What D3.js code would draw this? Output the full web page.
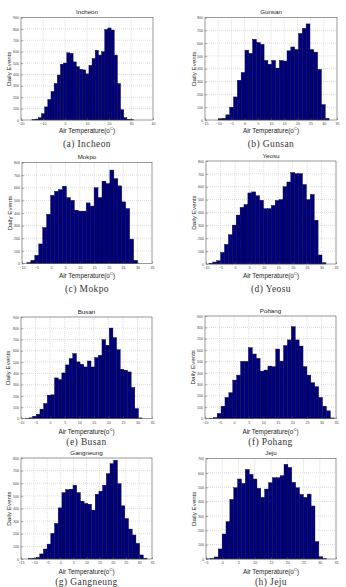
<!DOCTYPE html>
<html lang="en">
<head>
<meta charset="UTF-8">
<title>Daily events by air temperature</title>
<script src="https://d3js.org/d3.v7.min.js"></script>
<style>
	body { margin: 0; background: #fff; }
	svg { display: block; }
</style>
</head>
<body>
<div id="main"></div>
<script>
	// station names and panel captions
	var stations = ["Incheon", "Gunsan", "Mokpo", "Yeosu", "Busan", "Pohang", "Gangneung", "Jeju"];
	var captions = ["(a) Incheon", "(b) Gunsan", "(c) Mokpo", "(d) Yeosu", "(e) Busan", "(f) Pohang", "(g) Gangneung", "(h) Jeju"];

	// histogram counts (daily events per temperature bin)
	var incheon = [3, 8, 20, 55, 115, 180, 250, 320, 395, 490, 500, 590, 585, 510, 468, 445, 440, 405, 480, 540, 612, 570, 600, 795, 808, 790, 570, 320, 90, 20, 5, 2];
	var gunsan = [10, 13, 40, 100, 180, 310, 370, 545, 520, 630, 605, 590, 465, 435, 465, 405, 465, 460, 540, 570, 550, 675, 715, 750, 550, 530, 395, 120, 13];
	var mokpo = [8, 25, 65, 155, 285, 390, 540, 572, 585, 612, 522, 500, 422, 415, 415, 480, 455, 600, 522, 652, 633, 740, 672, 615, 488, 435, 193, 25];
	var yeosu = [5, 15, 25, 90, 152, 227, 302, 380, 440, 462, 552, 560, 530, 495, 430, 430, 455, 493, 500, 600, 637, 710, 702, 702, 617, 500, 540, 340, 70, 10];
	var busan = [3, 6, 20, 38, 83, 133, 207, 210, 360, 345, 404, 475, 531, 575, 502, 481, 457, 510, 457, 540, 560, 700, 650, 802, 717, 610, 437, 428, 413, 275, 88, 5];
	var pohang = [3, 8, 44, 108, 185, 226, 337, 381, 501, 501, 622, 566, 528, 416, 425, 460, 455, 610, 504, 640, 690, 806, 690, 636, 455, 381, 314, 279, 185, 108, 67, 5];
	var gangneung = [3, 5, 13, 40, 79, 118, 203, 282, 405, 526, 550, 553, 584, 526, 458, 440, 434, 387, 513, 537, 584, 676, 755, 782, 597, 421, 321, 237, 190, 124, 32, 5];
	var jeju = [1, 3, 14, 70, 174, 260, 415, 496, 557, 527, 624, 589, 557, 492, 429, 487, 531, 566, 566, 580, 659, 638, 534, 496, 450, 429, 452, 369, 121, 16, 2];
	var counts = [incheon, gunsan, mokpo, yeosu, busan, pohang, gangneung, jeju];

	// temperature span covered by the bins of each station
	var binSpans = [[-15, 31], [-10, 32], [-8.3, 30], [-9, 31.5], [-8.5, 31.6], [-8.5, 34.4], [-12.1, 33.1], [-4.8, 32.1]];

	// axis ranges and tick labels
	var xDomains = [[-20, 40], [-15, 35], [-10, 35], [-10, 35], [-10, 35], [-10, 35], [-15, 35], [-5, 35]];
	var xTicks = [
		[-20, -10, 0, 10, 20, 30, 40],
		[-15, -10, -5, 0, 5, 10, 15, 20, 25, 30, 35],
		[-10, -5, 0, 5, 10, 15, 20, 25, 30, 35],
		[-10, -5, 0, 5, 10, 15, 20, 25, 30, 35],
		[-10, -5, 0, 5, 10, 15, 20, 25, 30, 35],
		[-10, -5, 0, 5, 10, 15, 20, 25, 30, 35],
		[-15, -10, -5, 0, 5, 10, 15, 20, 25, 30, 35],
		[-5, 0, 5, 10, 15, 20, 25, 30, 35]
	];
	var yMax = [900, 800, 800, 800, 900, 900, 800, 700];

	// panel boxes in page pixels: plot left, right, top, bottom, caption y
	var boxes = [
		{l: 21, r: 153, t: 17.5, b: 120, cap: 147, ttl: 14, xl: 133, yl: 9},
		{l: 205, r: 337, t: 17.5, b: 120, cap: 147, ttl: 14, xl: 133, yl: 194},
		{l: 22, r: 152, t: 162.5, b: 263.5, cap: 292, ttl: 159, xl: 278, yl: 10},
		{l: 206, r: 336, t: 161, b: 264, cap: 292, ttl: 158, xl: 278, yl: 194},
		{l: 21, r: 152, t: 317, b: 418.5, cap: 445, ttl: 314, xl: 434, yl: 8},
		{l: 205, r: 336, t: 316, b: 418.5, cap: 445, ttl: 313, xl: 434, yl: 193},
		{l: 21, r: 152, t: 458, b: 559, cap: 585, ttl: 455, xl: 574, yl: 9},
		{l: 206, r: 336, t: 458.5, b: 559, cap: 585, ttl: 455, xl: 574, yl: 194}
	];

	var svg = d3.select("#main")
		.append("svg")
		.attr("width", 346)
		.attr("height", 587);

	stations.forEach(function(name, k){
		var box = boxes[k];
		var data = counts[k];
		var g = svg.append("g");

		var x = d3.scaleLinear().domain(xDomains[k]).range([box.l, box.r]);
		var y = d3.scaleLinear().domain([0, yMax[k]]).range([box.b, box.t]);
		// bin index -> temperature
		var bin = d3.scaleLinear().domain([0, data.length]).range(binSpans[k]);

		// white plot area
		g.append("rect")
			.attr("x", box.l).attr("y", box.t)
			.attr("width", box.r - box.l).attr("height", box.b - box.t)
			.attr("fill", "#fff");

		// dotted grid
		g.selectAll(".gx").data(xTicks[k].slice(1, -1)).enter().append("line")
			.attr("x1", function(d){ return x(d); }).attr("x2", function(d){ return x(d); })
			.attr("y1", box.t).attr("y2", box.b)
			.attr("stroke", "#bbb").attr("stroke-width", 0.5).attr("stroke-dasharray", "1,1");
		g.selectAll(".gy").data(y.ticks(yMax[k] / 100).slice(1, -1)).enter().append("line")
			.attr("y1", function(d){ return y(d); }).attr("y2", function(d){ return y(d); })
			.attr("x1", box.l).attr("x2", box.r)
			.attr("stroke", "#bbb").attr("stroke-width", 0.5).attr("stroke-dasharray", "1,1");

		// histogram bars
		g.selectAll(".bar").data(data).enter().append("rect")
			.attr("x", function(d, i){ return x(bin(i)); })
			.attr("width", function(d, i){ return x(bin(i + 1)) - x(bin(i)); })
			.attr("y", function(d){ return y(d); })
			.attr("height", function(d){ return box.b - y(d); })
			.attr("fill", "#00007f")
			.attr("stroke", "#000022")
			.attr("stroke-width", 0.4);

		// frame
		g.append("rect")
			.attr("x", box.l).attr("y", box.t)
			.attr("width", box.r - box.l).attr("height", box.b - box.t)
			.attr("fill", "none").attr("stroke", "#555").attr("stroke-width", 0.6);

		// axes
		var xAxis = d3.axisBottom(x).tickValues(xTicks[k]).tickSize(-2).tickPadding(2.5);
		var yAxis = d3.axisLeft(y).ticks(yMax[k] / 100).tickSize(-2).tickPadding(2);
		g.append("g").attr("transform", "translate(0," + box.b + ")").call(xAxis);
		g.append("g").attr("transform", "translate(" + box.l + ",0)").call(yAxis);
		g.selectAll(".domain").remove();
		g.selectAll(".tick line").attr("stroke", "#555").attr("stroke-width", 0.5);
		g.selectAll(".tick text")
			.attr("font-family", "Liberation Sans, Arial, sans-serif")
			.attr("font-size", 3.6).attr("fill", "#444");

		// title
		g.append("text")
			.attr("x", (box.l + box.r) / 2).attr("y", box.ttl)
			.attr("text-anchor", "middle")
			.attr("font-family", "Liberation Sans, Arial, sans-serif")
			.attr("font-size", 6.2).attr("fill", "#222")
			.text(name);

		// x label with superscript C
		var xl = g.append("text")
			.attr("x", (box.l + box.r) / 2).attr("y", box.xl)
			.attr("text-anchor", "middle")
			.attr("font-family", "Liberation Sans, Arial, sans-serif")
			.attr("font-size", 6.4).attr("fill", "#222");
		xl.append("tspan").text("Air Temperature(o");
		xl.append("tspan").attr("font-size", 4.2).attr("dy", -2.6).text("C");
		xl.append("tspan").attr("dy", 2.6).text(")");

		// y label
		g.append("text")
			.attr("transform", "translate(" + box.yl + "," + ((box.t + box.b) / 2) + ") rotate(-90)")
			.attr("text-anchor", "middle")
			.attr("dy", "0.35em")
			.attr("font-family", "Liberation Sans, Arial, sans-serif")
			.attr("font-size", 6.2).attr("fill", "#222")
			.text("Daily Events");

		// caption
		g.append("text")
			.attr("x", (box.l + box.r) / 2).attr("y", box.cap)
			.attr("text-anchor", "middle")
			.attr("font-family", "Liberation Serif, DejaVu Serif, serif")
			.attr("font-size", 9.5).attr("letter-spacing", 0.4).attr("fill", "#333")
			.text(captions[k]);
	});
</script>
</body>
</html>
